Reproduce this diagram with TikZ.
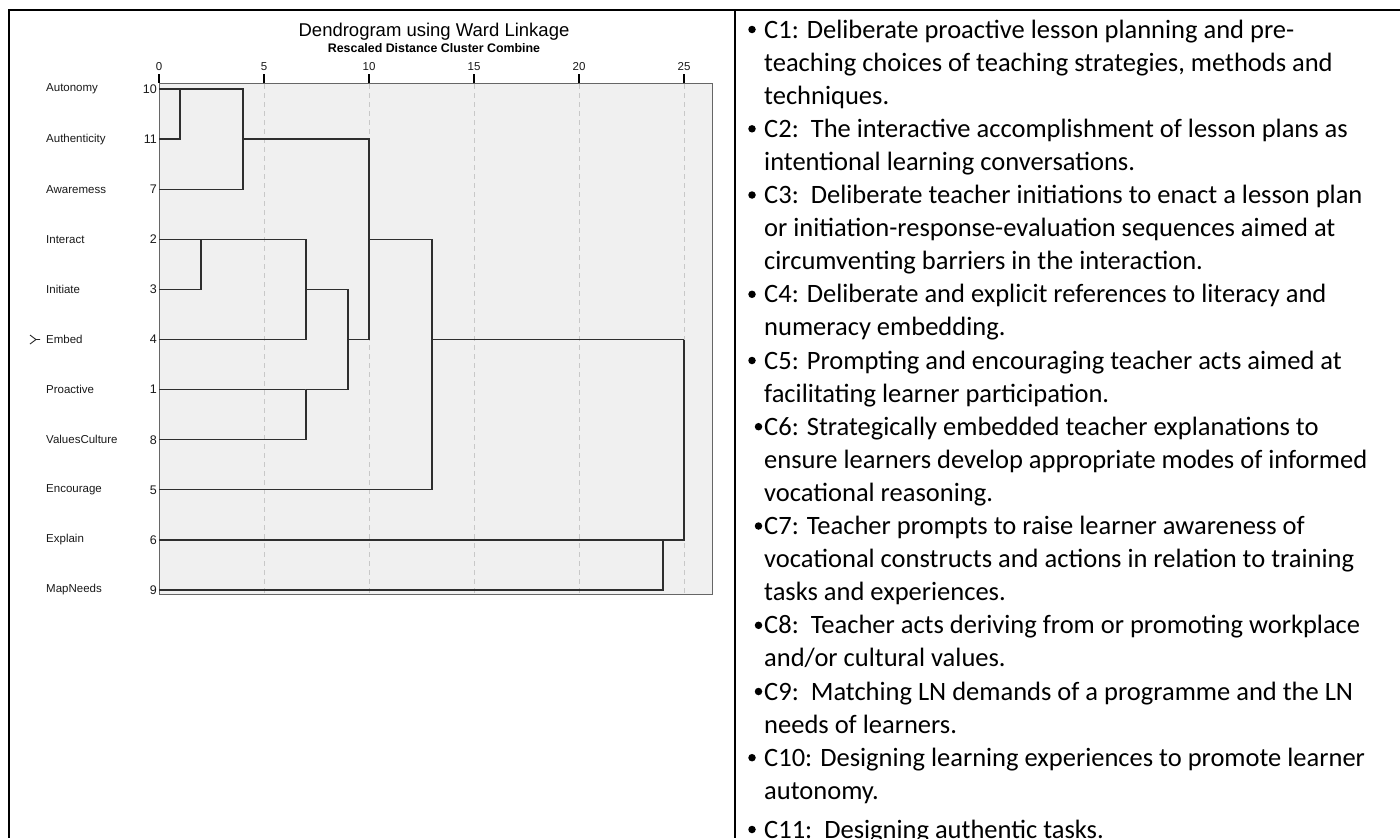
\documentclass[tikz,border=0pt]{standalone}
\usepackage{fontspec}
\setmainfont{Carlito}
\newfontfamily\spss{Liberation Sans}
\definecolor{plotbg}{HTML}{F0F0F0}
\definecolor{gridc}{HTML}{C8C8C8}
\begin{document}
\begin{tikzpicture}[x=1pt,y=-1pt,
  border/.style={line width=2pt, draw=black},
  dline/.style={draw=black!82, line width=1.3pt},
  gridline/.style={draw=gridc, line width=1pt, dash pattern=on 5pt off 4pt},
  tickl/.style={draw=black, line width=1.2pt},
  lbl/.style={font=\spss\fontsize{11.5}{13}\selectfont, text=black!90, inner sep=0pt, anchor=west},
  num/.style={font=\spss\fontsize{12.5}{14}\selectfont, text=black!90, inner sep=0pt, anchor=east},
  axnum/.style={font=\spss\fontsize{11.5}{13}\selectfont, text=black!90, inner sep=0pt},
  item/.style={anchor=base west, align=left, inner sep=0pt, font=\fontsize{26.5}{33.1}\selectfont},
  bul/.style={fill=black, draw=none, circle, minimum size=7.5pt, inner sep=0pt}
]
\useasboundingbox (0,0) rectangle (1400,838);

% table borders
\draw[border] (9,10) -- (1400,10);
\draw[border] (9,9) -- (9,838);
\draw[border] (735,10) -- (735,838);

% titles
\node[font=\spss\fontsize{18.5}{20}\selectfont, inner sep=0pt] (title) at (434,32) {Dendrogram using Ward Linkage};
\node[font=\spss\bfseries\fontsize{12.4}{14}\selectfont, inner sep=0pt] (subtitle) at (434,48) {Rescaled Distance Cluster Combine};

% plot frame
\draw[fill=plotbg, draw=black!60, line width=1pt] (159,83) rectangle (712,594);
\foreach \k in {1,...,5} {
  \draw[gridline] ({159+105*\k},84) -- ({159+105*\k},593);
}
\foreach \k/\t in {0/0,1/5,2/10,3/15,4/20,5/25} {
  \draw[tickl] ({159+105*\k},74) -- ({159+105*\k},83);
  \node[axnum] (ax\k) at ({159+105*\k},67) {\t};
}

% leaves
\foreach \i/\name/\num in {0/Autonomy/10,1/Authenticity/11,2/Awaremess/7,3/Interact/2,4/Initiate/3,5/Embed/4,6/Proactive/1,7/ValuesCulture/8,8/Encourage/5,9/Explain/6,10/MapNeeds/9} {
  \node[lbl] (name\i) at (46,{89+50.1*\i}) {\name};
  \node[num] (num\i) at (157,{89+50.1*\i}) {\num};
  \coordinate (L\i) at (159,{89+50.1*\i});
}
% marker at Embed
\draw[black!85, line width=0.9pt] (30,335) -- (36,339.5) -- (30,344) (36,339.5) -- (40,339.5);

% merge points
\coordinate (m1) at (180,89);
\coordinate (m2) at (243,139.1);
\coordinate (m3) at (201,239.3);
\coordinate (m4) at (306,289.4);
\coordinate (m5) at (306,389.6);
\coordinate (m6) at (348,339.5);
\coordinate (m7) at (369,239.3);
\coordinate (m8) at (432,339.5);
\coordinate (m9) at (663,539.9);
\coordinate (m10) at (684,339.5);

\draw[dline] (L0) -| (m1);
\draw[dline] (L1) -| (m1);
\draw[dline] (m1) -| (m2);
\draw[dline] (L2) -| (m2);
\draw[dline] (L3) -| (m3);
\draw[dline] (L4) -| (m3);
\draw[dline] (m3) -| (m4);
\draw[dline] (L5) -| (m4);
\draw[dline] (L6) -| (m5);
\draw[dline] (L7) -| (m5);
\draw[dline] (m4) -| (m6);
\draw[dline] (m5) -| (m6);
\draw[dline] (m2) -| (m7);
\draw[dline] (m6) -| (m7);
\draw[dline] (m7) -| (m8);
\draw[dline] (L8) -| (m8);
\draw[dline] (L9) -| (m9);
\draw[dline] (L10) -| (m9);
\draw[dline] (m8) -| (m10);
\draw[dline] (m9) -| (m10);

% right column (node anchored at baseline of its last line)
\node[item] (c1) at (764,104.2) {C1: Deliberate proactive lesson planning and pre-\\teaching choices of teaching strategies, methods and\\techniques.};
\node[item] (c2) at (764,170.4) {C2:\ \ The interactive accomplishment of lesson plans as\\intentional learning conversations.};
\node[item] (c3) at (764,269.7) {C3:\ \ Deliberate teacher initiations to enact a lesson plan\\or initiation-response-evaluation sequences aimed at\\circumventing barriers in the interaction.};
\node[item] (c4) at (764,335.9) {C4: Deliberate and explicit references to literacy and\\numeracy embedding.};
\node[item] (c5) at (764,402.1) {C5: Prompting and encouraging teacher acts aimed at\\facilitating learner participation.};
\node[item] (c6) at (764,501.4) {C6: Strategically embedded teacher explanations to\\ensure learners develop appropriate modes of informed\\vocational reasoning.};
\node[item] (c7) at (764,600.7) {C7: Teacher prompts to raise learner awareness of\\vocational constructs and actions in relation to training\\tasks and experiences.};
\node[item] (c8) at (764,666.9) {C8:\ \ Teacher acts deriving from or promoting workplace\\and/or cultural values.};
\node[item] (c9) at (764,733.1) {C9:\ \ Matching LN demands of a programme and the LN\\needs of learners.};
\node[item] (c10) at (764,799.3) {C10: Designing learning experiences to promote learner\\autonomy.};
\node[item] (c11) at (764,838) {C11:\ \ Designing authentic tasks.};

\foreach \y/\n in {38/b1,137.3/b2,203.5/b3,302.8/b4,369/b5,766.2/b10,838/b11} {
  \node[bul] (\n) at (752,{\y-8.5}) {};
}
\foreach \y/\n in {435.2/b6,534.5/b7,633.8/b8,700/b9} {
  \node[bul] (\n) at (758.5,{\y-8.5}) {};
}
\end{tikzpicture}
\end{document}
